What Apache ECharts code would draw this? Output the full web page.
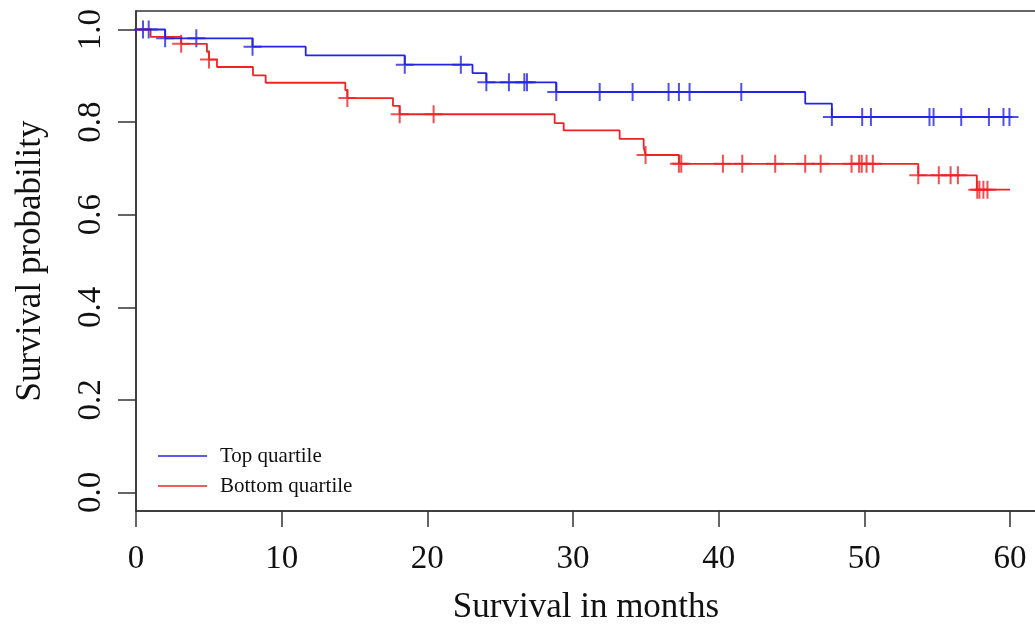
<!DOCTYPE html>
<html>
<head>
<meta charset="utf-8">
<script src="https://cdn.jsdelivr.net/npm/echarts@6/dist/echarts.min.js"></script>
<style>
	html, body { margin: 0; padding: 0; background: #fff; }
	#main { width: 1035px; height: 626px; }
</style>
</head>
<body>
<div id="main"></div>
<script>
// Kaplan-Meier steps (time in months, survival)
var topTimes = [0, 2.0, 8.0, 11.65, 18.45, 23.1, 24.05, 28.85, 45.94, 47.77, 59.96];
var topSurv  = [1.0, 0.981, 0.963, 0.944, 0.924, 0.906, 0.886, 0.865, 0.840, 0.811, 0.811];
var topCensor = [0.48, 0.87, 2.0, 4.14, 8.0, 18.45, 22.3, 24.05, 25.6, 26.66, 26.84, 28.85,
	31.83, 34.09, 36.56, 37.27, 38.0, 41.55, 47.77, 49.85, 50.45, 54.47, 54.75, 56.65,
	58.55, 59.55, 59.96];

var botTimes = [0, 1.0, 3.1, 4.87, 5.01, 5.56, 8.03, 8.9, 14.37, 14.51, 17.64, 18.1,
	28.74, 29.36, 33.2, 34.85, 34.98, 37.27, 53.7, 57.72, 60.0];
var botSurv  = [1.0, 0.984, 0.969, 0.952, 0.935, 0.919, 0.901, 0.885, 0.869, 0.852, 0.835, 0.817,
	0.798, 0.782, 0.764, 0.746, 0.729, 0.710, 0.685, 0.654, 0.654];
var botCensor = [3.1, 5.01, 14.51, 18.1, 20.43, 34.98, 37.27, 37.43, 40.29, 41.62, 43.88,
	45.94, 47.0, 49.12, 49.64, 49.82, 50.15, 50.58, 53.7, 55.11, 55.92, 56.42,
	57.75, 57.9, 58.17, 58.45];

var xTicks = [0, 10, 20, 30, 40, 50, 60];
var yTicks = [0, 0.2, 0.4, 0.6, 0.8, 1.0];

var seriesNames = ['Top quartile', 'Bottom quartile'];

var BLUE = '#2424e6';
var RED = '#ee2424';
var FONT = '"Liberation Serif", "DejaVu Serif", serif';
var PLUS = 'path://M0,8h18v2h-18z M8,0h2v18h-2z';

// pair the step arrays into [x, y]
function toPairs(times, surv) {
	var out = [];
	for (var i = 0; i < times.length; i++) {
		out.push([times[i], surv[i]]);
	}
	return out;
}

// censor marks sit on the curve: value of the step function at time t
function survAt(times, surv, t) {
	var s = surv[0];
	for (var i = 0; i < times.length; i++) {
		if (times[i] <= t) s = surv[i];
	}
	return s;
}

function censorPairs(censor, times, surv) {
	return censor.map(function (t) {
		return [t, survAt(times, surv, t)];
	});
}

var myChart = echarts.init(document.getElementById('main'));

myChart.setOption({
	animation: false,
	backgroundColor: '#fff',
	grid: {
		left: 136,
		top: 11,
		right: -10,
		bottom: 115,
		outerBoundsMode: 'none',
		containLabel: false,
		show: true,
		borderColor: '#333',
		borderWidth: 1.5,
		backgroundColor: 'transparent'
	},
	legend: {
		data: seriesNames,
		orient: 'vertical',
		left: 158,
		top: 441,
		padding: 0,
		icon: 'rect',
		itemWidth: 49,
		itemHeight: 1.6,
		itemGap: 0,
		textStyle: {
			fontFamily: FONT,
			fontSize: 21,
			color: '#111',
			lineHeight: 30,
			padding: [0, 0, 0, 8]
		}
	},
	xAxis: {
		type: 'value',
		min: 0,
		max: 62.4,
		name: 'Survival in months',
		nameLocation: 'middle',
		nameGap: 79,
		nameTextStyle: { fontFamily: FONT, fontSize: 35, color: '#111', padding: [0, 9, 0, 0] },
		splitLine: { show: false },
		axisLine: { show: true, onZero: false, lineStyle: { color: '#333', width: 1.5 } },
		axisTick: {
			show: true,
			length: 16,
			customValues: xTicks,
			lineStyle: { color: '#333', width: 1.5 }
		},
		axisLabel: {
			customValues: xTicks,
			margin: 32,
			fontFamily: FONT,
			fontSize: 33,
			color: '#111'
		}
	},
	yAxis: {
		type: 'value',
		min: -0.04,
		max: 1.04,
		name: 'Survival probability',
		nameLocation: 'middle',
		nameGap: 88,
		nameRotate: 90,
		nameTextStyle: { fontFamily: FONT, fontSize: 35, color: '#111' },
		splitLine: { show: false },
		axisLine: { show: true, onZero: false, lineStyle: { color: '#333', width: 1.5 } },
		axisTick: {
			show: true,
			length: 18,
			customValues: yTicks,
			lineStyle: { color: '#333', width: 1.5 }
		},
		axisLabel: {
			customValues: yTicks,
			rotate: 90,
			margin: 28,
			fontFamily: FONT,
			fontSize: 33,
			color: '#111',
			formatter: function (v) { return v.toFixed(1); }
		}
	},
	series: [{
		name: seriesNames[1],
		type: 'line',
		step: 'end',
		symbol: 'none',
		color: RED,
		lineStyle: { color: RED, width: 1.8 },
		data: toPairs(botTimes, botSurv)
	}, {
		name: seriesNames[1] + ' censored',
		type: 'scatter',
		symbol: PLUS,
		symbolSize: [18, 18],
		itemStyle: { color: RED },
		data: censorPairs(botCensor, botTimes, botSurv)
	}, {
		name: seriesNames[0],
		type: 'line',
		step: 'end',
		symbol: 'none',
		color: BLUE,
		lineStyle: { color: BLUE, width: 1.8 },
		data: toPairs(topTimes, topSurv)
	}, {
		name: seriesNames[0] + ' censored',
		type: 'scatter',
		symbol: PLUS,
		symbolSize: [18, 18],
		itemStyle: { color: BLUE },
		data: censorPairs(topCensor, topTimes, topSurv)
	}]
});
</script>
</body>
</html>
